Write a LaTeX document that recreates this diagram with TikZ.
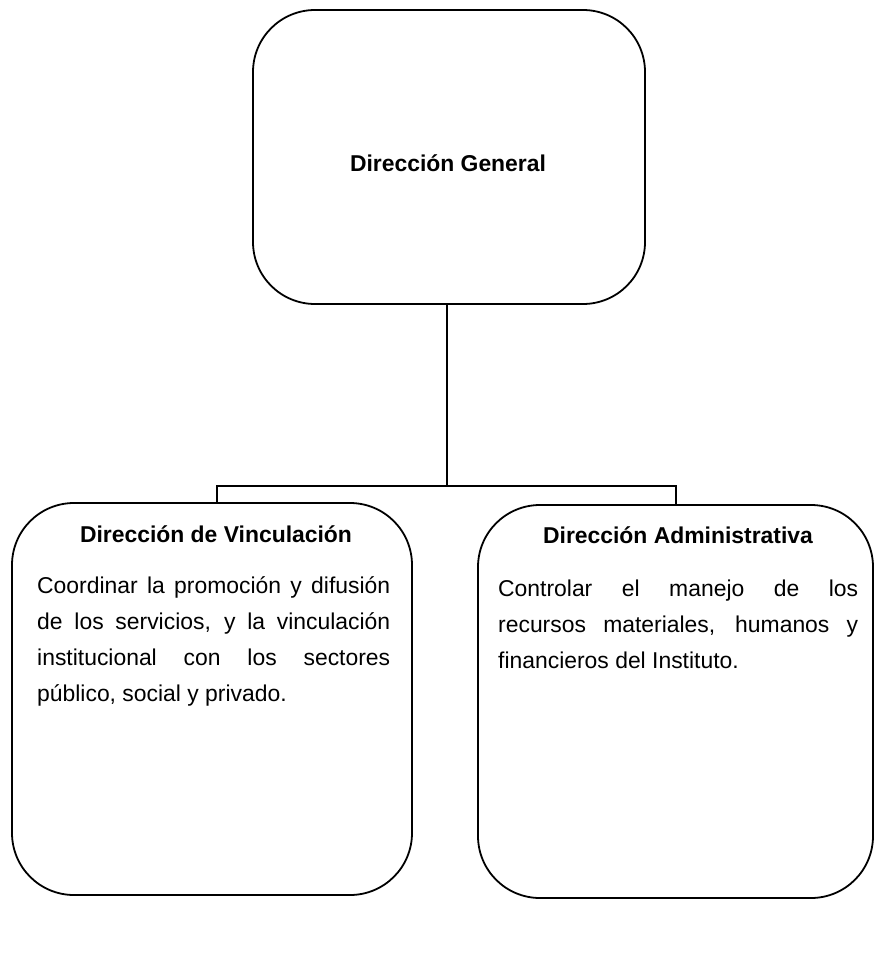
\documentclass[tikz,border=0pt]{standalone}
\usepackage{fontspec}
\setmainfont{Liberation Sans}
\begin{document}
\begin{tikzpicture}[x=1pt,y=-1pt,
  box/.style={draw, line width=1.8pt, rounded corners=62pt, inner sep=0pt},
  ttl/.style={font=\bfseries\fontsize{22.9}{26}\selectfont, inner sep=0pt, anchor=base},
  body/.style={font=\fontsize{22.9}{36}\selectfont, align=justify, inner sep=0pt, anchor=base west},
  conn/.style={line width=1.8pt}]
\useasboundingbox (0,0) rectangle (876,958);
\node[box, minimum width=392pt, minimum height=294pt] (top) at (449,157) {};
\node[box, minimum width=400pt, minimum height=392pt] (left) at (212,699) {};
\node[box, minimum width=395pt, minimum height=393pt] (right) at (675.5,701.5) {};
\node[ttl] (ttop) at (448,171) {Dirección General};
\node[ttl] (tleft) at (216,542) {Dirección de Vinculación};
\node[ttl] (tright) at (678,543) {Dirección Administrativa};
\node[body, text width=353pt] (bleft) at (37,593) {Coordinar la promoción y difusión\linebreak de los servicios, y la vinculación\linebreak institucional con los sectores\linebreak público, social y privado.\par};
\node[body, text width=360pt] (bright) at (498,596) {Controlar el manejo de los\linebreak recursos materiales, humanos y\linebreak financieros del Instituto.\par};
\draw[conn] ([xshift=-2pt]top.south) -- ++(0,181) coordinate (j);
\draw[conn] ([xshift=5pt]left.north) |- (j) -| ([xshift=0.5pt]right.north);
\end{tikzpicture}
\end{document}
